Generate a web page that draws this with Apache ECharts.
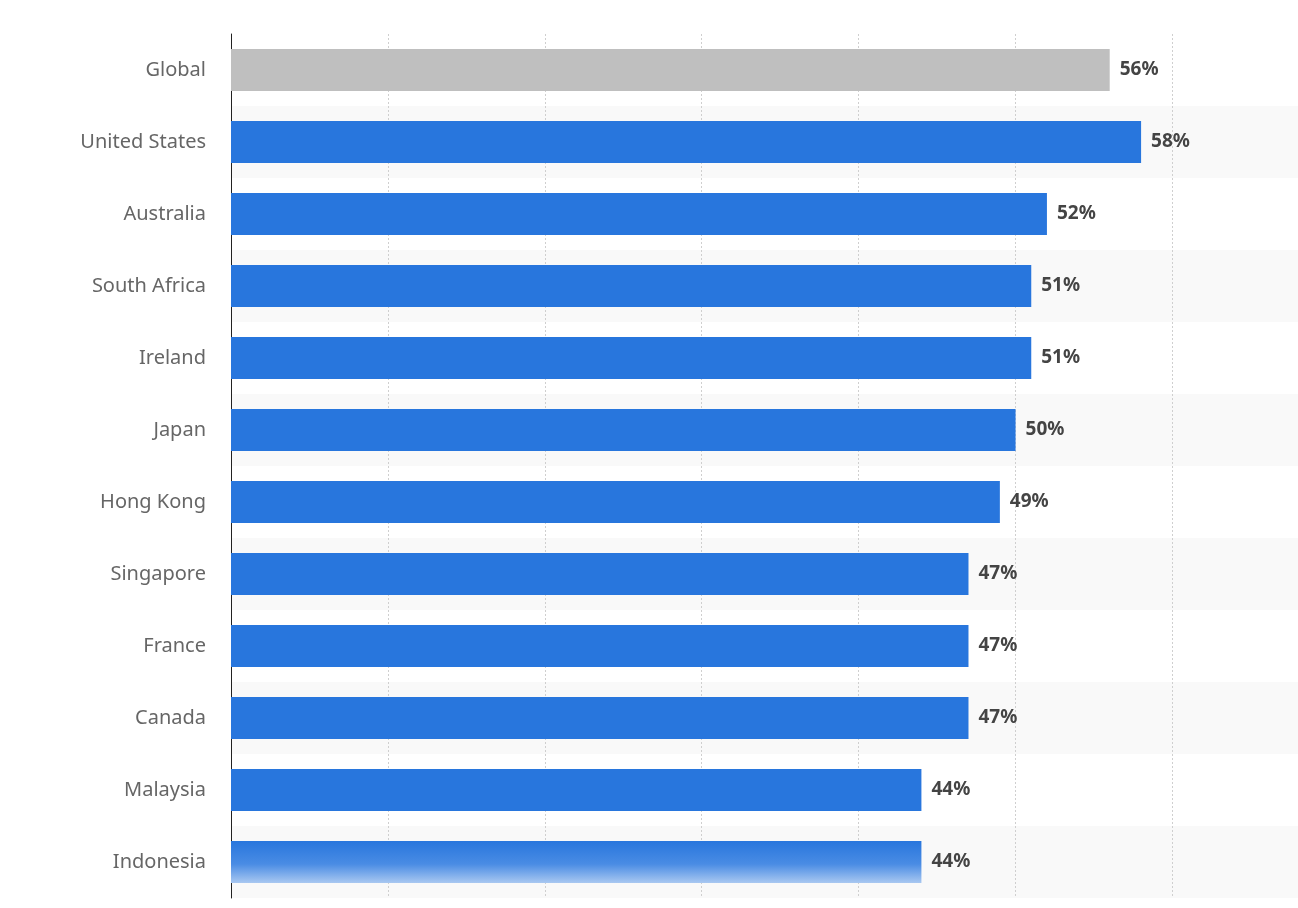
<!DOCTYPE html>
<html lang="en" style="height: 100%">
<head>
    <meta charset="utf-8">
</head>
<body style="height: 100%; margin: 0; background: #fff">
<div id="container" style="height: 100%"></div>
<script type="text/javascript" src="https://fastly.jsdelivr.net/npm/echarts@6/dist/echarts.min.js"></script>
<script type="text/javascript">

    const categories = ['Global', 'United States', 'Australia', 'South Africa', 'Ireland', 'Japan',
        'Hong Kong', 'Singapore', 'France', 'Canada', 'Malaysia', 'Indonesia'];
    const values = [56, 58, 52, 51, 51, 50, 49, 47, 47, 47, 44, 44];

    var dom = document.getElementById('container');
    var myChart = echarts.init(dom, null, {renderer: 'canvas'});

    const barData = values.map((v, i) => {
        let color = '#2876dd';
        if (i === 0) color = '#bfbfbf';
        if (i === values.length - 1) {
            color = new echarts.graphic.LinearGradient(0, 0, 0, 1, [
                {offset: 0, color: '#2876dd'},
                {offset: 0.55, color: '#4a8ce4'},
                {offset: 1, color: '#a9c8f1'}
            ]);
        }
        return {value: v, itemStyle: {color: color}};
    });

    const option = {
        animation: false,
        grid: {left: 231, right: 0, top: 34, height: 864},
        xAxis: {
            type: 'value',
            min: 0,
            max: 68,
            interval: 10,
            axisLabel: {show: false},
            axisLine: {show: false},
            axisTick: {show: false},
            splitLine: {lineStyle: {color: '#cfcfcf', type: [2, 2], width: 1}}
        },
        yAxis: {
            type: 'category',
            inverse: true,
            data: categories,
            axisLine: {show: true, lineStyle: {color: '#222', width: 1}},
            axisTick: {show: false},
            axisLabel: {
                color: '#666', fontSize: 20, fontFamily: 'Noto Sans', margin: 25,
                formatter: (v) => v
            },
            splitArea: {show: true, areaStyle: {color: ['rgba(0,0,0,0)', '#f9f9f9']}}
        },
        series: [{
            type: 'bar',
            data: barData,
            barWidth: 42,
            label: {
                show: true, position: 'right', distance: 10,
                formatter: '{c}%', color: '#444', fontSize: 19,
                fontWeight: 'bold', fontFamily: 'Noto Sans'
            }
        }]
    };

    myChart.setOption(option);
    window.addEventListener('resize', myChart.resize);
</script>
</body>
</html>
